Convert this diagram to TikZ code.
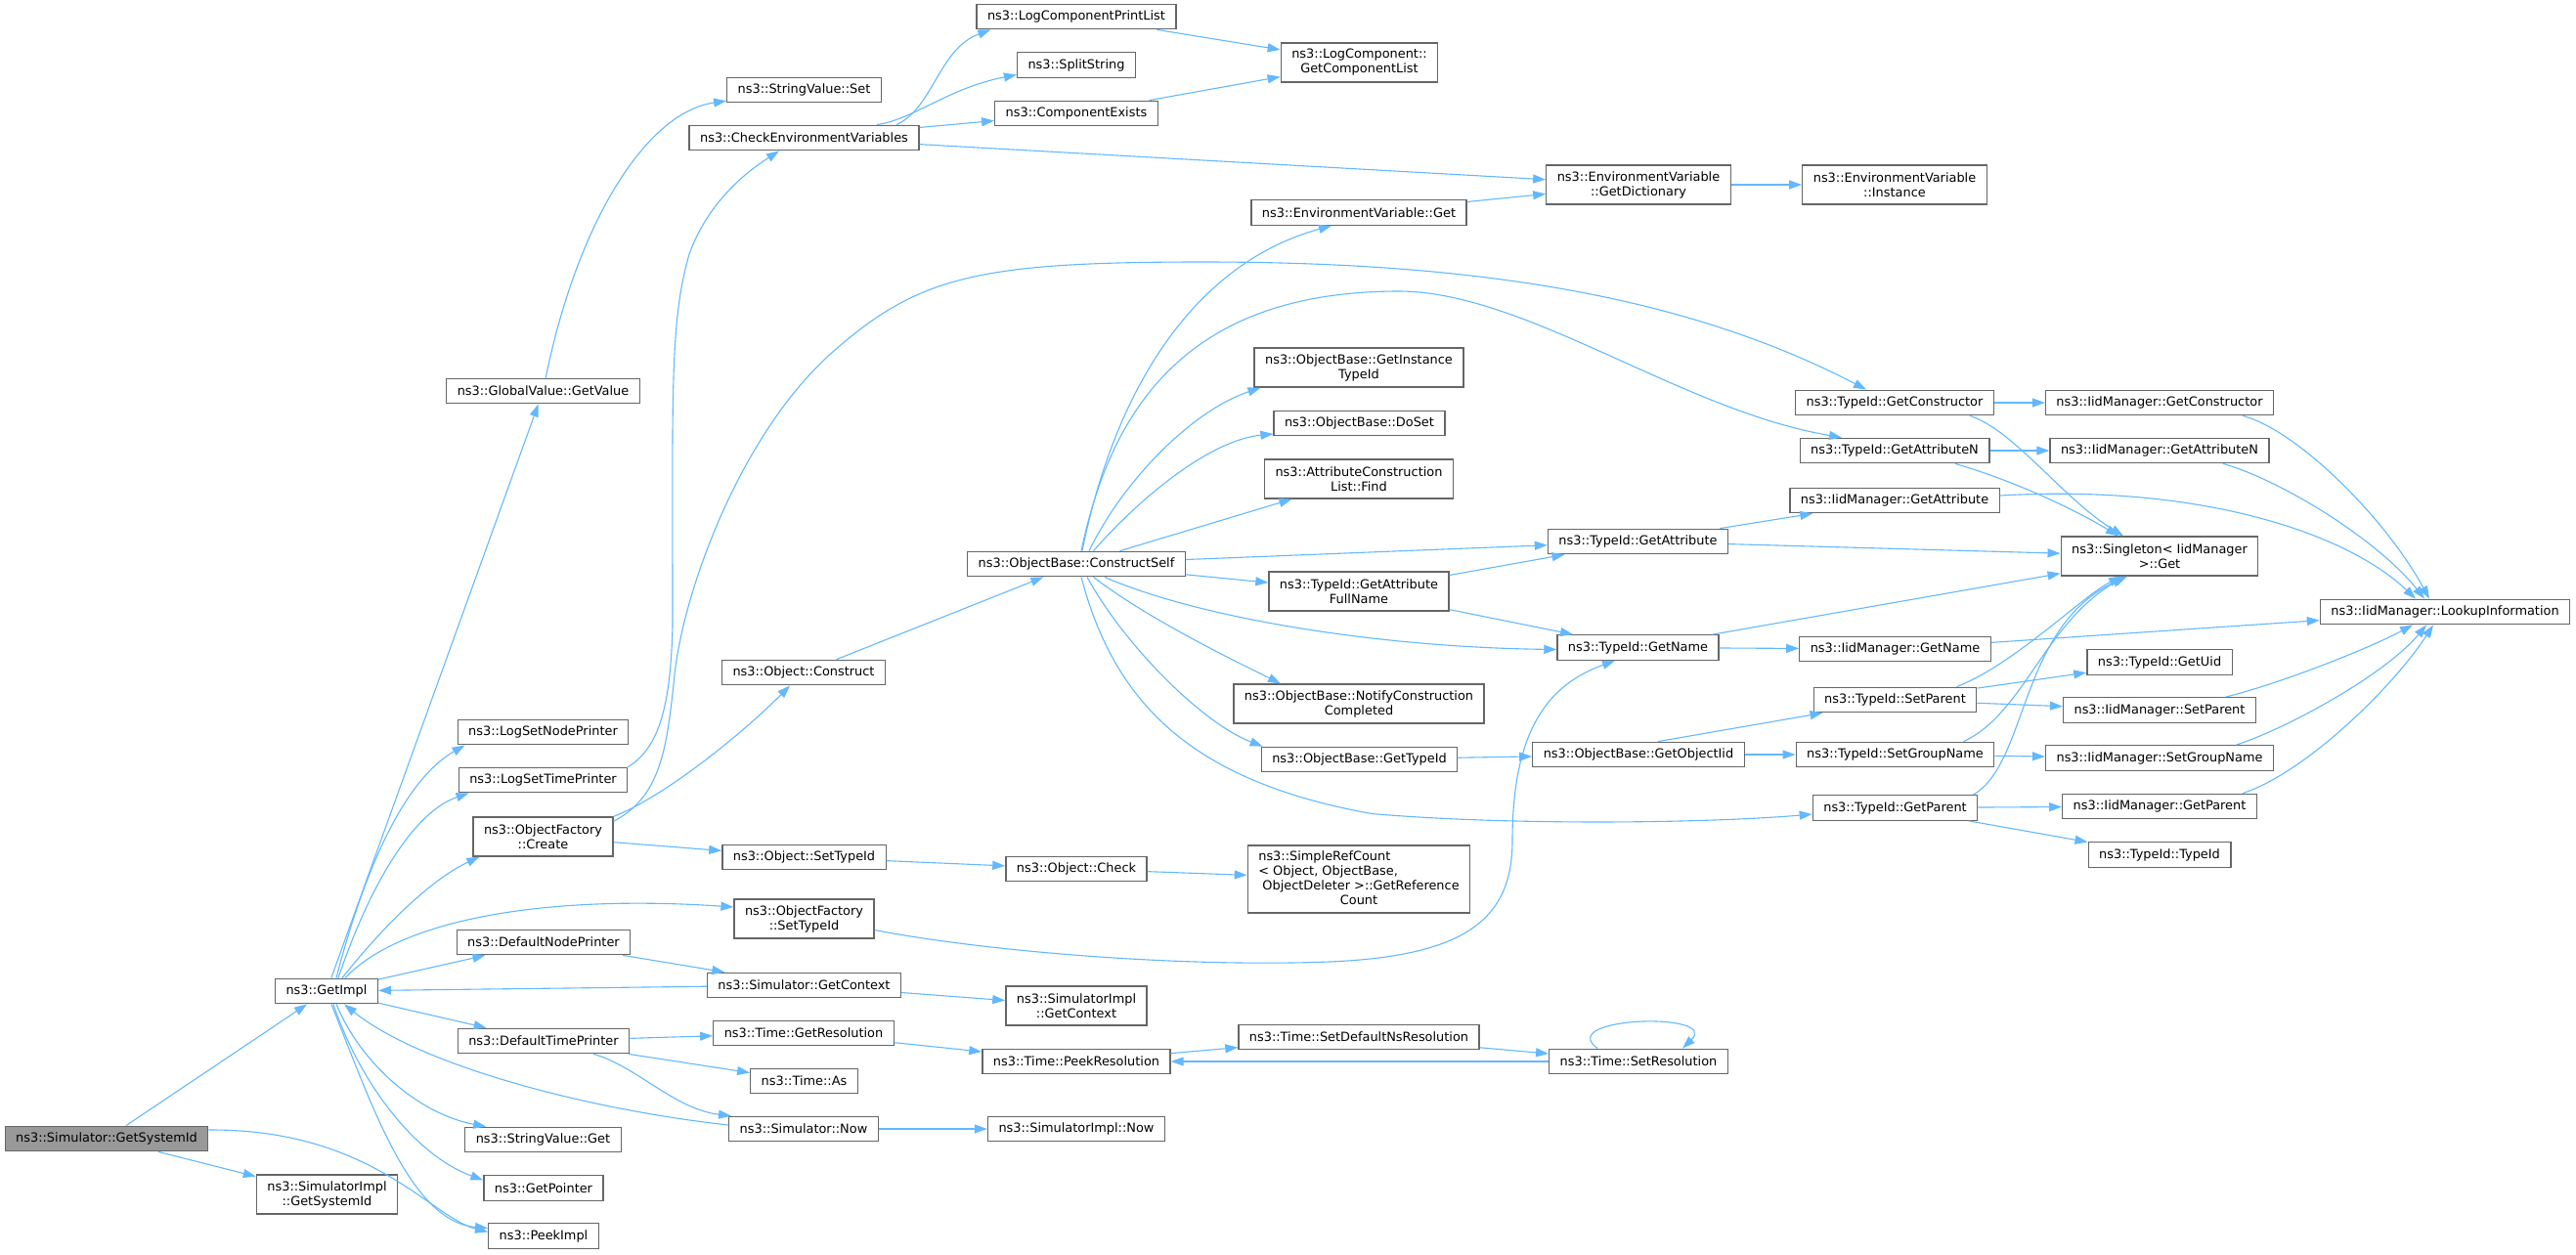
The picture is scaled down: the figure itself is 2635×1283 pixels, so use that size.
\documentclass[tikz,border=0pt]{standalone}
\usepackage{fontspec}
\setmainfont{DejaVu Sans}
\usetikzlibrary{arrows.meta}
\definecolor{edgeblue}{HTML}{63B8FF}
\definecolor{boxgray}{HTML}{666666}
\definecolor{rootgray}{HTML}{999999}
\newcommand{\fnsize}{\fontsize{12.9}{15}\selectfont}
\tikzset{> = {Triangle[length=13pt,width=9pt]}, every picture/.style={line width=1.1pt}}

\begin{document}
\begin{tikzpicture}[x=1pt,y=-1pt]
\useasboundingbox (0,0) rectangle (2635,1283);
\begin{scope}[every node/.style={draw=boxgray,fill=white,line width=1.3pt,font=\fnsize,align=center,inner xsep=11pt,inner ysep=0pt,minimum height=25.5pt},
  two/.style={minimum height=40pt}, four/.style={minimum height=69pt}]
\node[fill=rootgray] (sysid) at (109,1165) {ns3::Simulator::GetSystemId};
\node[two] (implsysid) at (334.5,1222) {ns3::SimulatorImpl\\::GetSystemId};
\node (getimpl) at (334,1014) {ns3::GetImpl};
\node (gvget) at (555.5,400) {ns3::GlobalValue::GetValue};
\node (lsnp) at (555.5,749) {ns3::LogSetNodePrinter};
\node (lstp) at (555.5,798) {ns3::LogSetTimePrinter};
\node[two] (ofcreate) at (555.5,856) {ns3::ObjectFactory\\::Create};
\node (dnp) at (556,964) {ns3::DefaultNodePrinter};
\node (dtp) at (556,1065) {ns3::DefaultTimePrinter};
\node (svget) at (555.5,1166) {ns3::StringValue::Get};
\node (getpointer) at (556,1215.5) {ns3::GetPointer};
\node (peekimpl) at (556,1264.5) {ns3::PeekImpl};
\node (svset) at (822.5,92) {ns3::StringValue::Set};
\node (checkenv) at (822.5,141) {ns3::CheckEnvironmentVariables};
\node (oconstruct) at (822,688) {ns3::Object::Construct};
\node (osettype) at (822.5,877) {ns3::Object::SetTypeId};
\node[two] (ofsettype) at (822.5,940) {ns3::ObjectFactory\\::SetTypeId};
\node (simctx) at (822.5,1008) {ns3::Simulator::GetContext};
\node (getres) at (822,1057) {ns3::Time::GetResolution};
\node (timeas) at (822.5,1106) {ns3::Time::As};
\node (simnow) at (822,1155) {ns3::Simulator::Now};
\node (lcpl) at (1101,17) {ns3::LogComponentPrintList};
\node (split) at (1101,66.5) {ns3::SplitString};
\node (compex) at (1101,116) {ns3::ComponentExists};
\node (cself) at (1101,577) {ns3::ObjectBase::ConstructSelf};
\node (ocheck) at (1101,889) {ns3::Object::Check};
\node[two] (implctx) at (1101,1029) {ns3::SimulatorImpl\\::GetContext};
\node (peekres) at (1101,1086) {ns3::Time::PeekResolution};
\node (implnow) at (1101,1155) {ns3::SimulatorImpl::Now};
\node[two] (getcl) at (1390.5,64) {ns3::LogComponent::\\GetComponentList};
\node (envget) at (1390,217.5) {ns3::EnvironmentVariable::Get};
\node[two] (instid) at (1390,376) {ns3::ObjectBase::GetInstance\\TypeId};
\node (doset) at (1390.5,433) {ns3::ObjectBase::DoSet};
\node[two] (acfind) at (1390,490) {ns3::AttributeConstruction\\List::Find};
\node[two] (attrfull) at (1390,605) {ns3::TypeId::GetAttribute\\FullName};
\node[two] (notify) at (1390,720) {ns3::ObjectBase::NotifyConstruction\\Completed};
\node (obtypeid) at (1390.5,777) {ns3::ObjectBase::GetTypeId};
\node[four] (refcount) at (1390,899.5) {\begin{tabular}{@{}l@{}}ns3::SimpleRefCount\\< Object, ObjectBase,\\\ ObjectDeleter >::GetReference\\\multicolumn{1}{@{}c@{}}{Count}\end{tabular}};
\node (setdef) at (1390,1061) {ns3::Time::SetDefaultNsResolution};
\node[two] (envdict) at (1676,189) {ns3::EnvironmentVariable\\::GetDictionary};
\node (tgetattr) at (1675.5,554) {ns3::TypeId::GetAttribute};
\node (tgetname) at (1675.5,662.5) {ns3::TypeId::GetName};
\node (objiid) at (1676,772) {ns3::ObjectBase::GetObjectIid};
\node (setres) at (1676,1086) {ns3::Time::SetResolution};
\node[two] (envinst) at (1938,189) {ns3::EnvironmentVariable\\::Instance};
\node (tgetctor) at (1938,412) {ns3::TypeId::GetConstructor};
\node (tgetattrn) at (1938,461) {ns3::TypeId::GetAttributeN};
\node (igetattr) at (1938,512) {ns3::IidManager::GetAttribute};
\node (igetname) at (1938.5,664) {ns3::IidManager::GetName};
\node (tsetparent) at (1938.5,716) {ns3::TypeId::SetParent};
\node (tsetgroup) at (1938.5,772) {ns3::TypeId::SetGroupName};
\node (tgetparent) at (1938.5,826.5) {ns3::TypeId::GetParent};
\node (igetctor) at (2209,412) {ns3::IidManager::GetConstructor};
\node (igetattrn) at (2209,461) {ns3::IidManager::GetAttributeN};
\node[two] (singleton) at (2209,569) {ns3::Singleton< IidManager\\>::Get};
\node (tgetuid) at (2209,677.5) {ns3::TypeId::GetUid};
\node (isetparent) at (2209,726.5) {ns3::IidManager::SetParent};
\node (isetgroup) at (2209,775.5) {ns3::IidManager::SetGroupName};
\node (igetparent) at (2209,825) {ns3::IidManager::GetParent};
\node (ttypeid) at (2209,874.5) {ns3::TypeId::TypeId};
\node (lookup) at (2501,626) {ns3::IidManager::LookupInformation};
\end{scope}

\begin{scope}[edgeblue, every edge/.style={draw}]
% straight calls
\path [->] (sysid) edge (getimpl) (sysid) edge (implsysid)
    (getimpl) edge (gvget) (getimpl) edge (dnp) (getimpl) edge (dtp)
    (simctx) edge (getimpl) (ofcreate) edge (osettype)
    (checkenv) edge (compex) (checkenv) edge (envdict)
    (lcpl) edge (getcl) (compex) edge (getcl)
    (envget) edge (envdict) (envdict) edge (envinst)
    (oconstruct) edge (cself) (cself) edge (acfind)
    (cself) edge (tgetattr) (cself) edge (attrfull)
    (attrfull) edge (tgetattr) (attrfull) edge (tgetname)
    (tgetattr) edge (igetattr) (tgetattr) edge (singleton)
    (tgetname) edge (singleton) (tgetname) edge (igetname)
    (igetname) edge (lookup) (tgetctor) edge (igetctor)
    (tgetattrn) edge (igetattrn) (tsetparent) edge (tgetuid)
    (tsetparent) edge (isetparent) (tsetgroup) edge (isetgroup)
    (tgetparent) edge (igetparent) (tgetparent) edge (ttypeid)
    (obtypeid) edge (objiid) (objiid) edge (tsetgroup)
    (osettype) edge (ocheck) (ocheck) edge (refcount)
    (dnp) edge (simctx) (simctx) edge (implctx)
    (dtp) edge (getres) (dtp) edge (timeas)
    (getres) edge (peekres) (peekres) edge (setdef)
    (setdef) edge (setres) (setres) edge (peekres)
    (simnow) edge (implnow);
\draw [->] ([xshift=20pt]objiid.north) -- ([xshift=-74pt]tsetparent.south);

% curved calls
\draw [->] ([yshift=9pt]sysid.east) .. controls (380,1155) and (440,1245) .. ([yshift=4pt]peekimpl.west);
\draw [->] (gvget) .. controls (590,230) and (660,115) .. (svset);
\draw [->] ([xshift=10pt]getimpl.north) .. controls (370,900) and (410,800) .. ([xshift=8pt]lsnp.south west);
\draw [->] ([xshift=12pt]getimpl.north) .. controls (380,900) and (425,830) .. ([xshift=11pt]lstp.south west);
\draw [->] ([xshift=16pt]getimpl.north) .. controls (390,950) and (440,900) .. ([xshift=7pt]ofcreate.south west);
\draw [->] ([xshift=19pt]getimpl.north) .. controls (410,940) and (560,915) .. ([yshift=12pt]ofsettype.west);
\draw [->] ([xshift=10pt]getimpl.south) .. controls (370,1090) and (430,1140) .. ([xshift=22pt]svget.north west);
\draw [->] ([xshift=7pt]getimpl.south) .. controls (365,1100) and (420,1180) .. ([yshift=8pt]getpointer.west);
\draw [->] ([xshift=5pt]getimpl.south) .. controls (380,1130) and (420,1250) .. ([yshift=8pt]peekimpl.west);
\draw [->] ([yshift=4pt]simnow.west) .. controls (600,1135) and (430,1090) .. ([xshift=18pt]getimpl.south);
\draw [->] ([xshift=51pt]dtp.south) .. controls (650,1090) and (690,1135) .. ([xshift=3pt]simnow.north west);
\draw [->] (lstp.north east) .. controls (675,765) and (686,720) .. (688,640)
    .. controls (688,400) and (685,330) .. (705,260)
    .. controls (725,205) and (765,175) .. ([xshift=-25.5pt]checkenv.south);
\draw [->] ([yshift=-5pt]ofcreate.north east) .. controls (675,815) and (682,770) .. (690,690)
    .. controls (700,600) and (760,440) .. (853,359)
    .. controls (940,283) and (1000,268) .. (1230,268)
    .. controls (1500,268) and (1720,300) .. ([xshift=-29pt]tgetctor.north);
\draw [->] (ofcreate.north east) .. controls (680,815) and (760,750) .. ([xshift=-14pt]oconstruct.south);
\draw [->] ([xshift=94.5pt]checkenv.north) .. controls (955,110) and (960,50) .. ([xshift=15pt]lcpl.south west);
\draw [->] ([xshift=74.5pt]checkenv.north) .. controls (935,122) and (970,90) .. ([yshift=-10pt]split.west);
\draw [->] ([xshift=6pt]cself.north) .. controls (1140,400) and (1220,270) .. ([xshift=-28pt]envget.south);
\draw [->] ([xshift=5pt]cself.north) .. controls (1140,400) and (1230,298) .. (1431,298)
    .. controls (1560,298) and (1720,420) .. ([xshift=-54pt]tgetattrn.north);
\draw [->] ([xshift=13pt]cself.north) .. controls (1150,490) and (1220,420) .. ([xshift=7pt]instid.south west);
\draw [->] ([xshift=17.5pt]cself.north) .. controls (1170,505) and (1240,450) .. ([yshift=-11pt]doset.west);
\draw [->] ([xshift=29pt]cself.south) .. controls (1220,630) and (1400,662) .. ([yshift=-2pt]tgetname.west);
\draw [->] ([xshift=17.5pt]cself.south) .. controls (1170,630) and (1250,670) .. ([xshift=-80pt]notify.north);
\draw [->] ([xshift=11pt]cself.south) .. controls (1150,660) and (1230,740) .. ([xshift=2pt]obtypeid.north west);
\draw [->] ([xshift=5pt]cself.south) .. controls (1140,720) and (1220,800) .. (1404,832.6)
    .. controls (1550,845) and (1750,842) .. ([yshift=-6.5pt]tgetparent.west);
\draw [->] ([yshift=-11.5pt]ofsettype.east) .. controls (1000,972) and (1200,990) .. (1360,984)
    .. controls (1500,978) and (1547,940) .. (1547,860)
    .. controls (1547,745) and (1585,700) .. ([xshift=-23.5pt]tgetname.south);
\draw [->] ([xshift=-42pt]setres.north) .. controls (1590,1040) and (1760,1035) .. ([xshift=45pt]setres.north);
\draw [->] ([xshift=77pt]tgetctor.south) .. controls (2060,440) and (2110,510) .. ([xshift=-37pt]singleton.north);
\draw [->] ([xshift=62pt]tgetattrn.south) .. controls (2060,492) and (2120,520) .. ([xshift=-42pt]singleton.north);
\draw [->] ([yshift=5pt]igetattr.east) .. controls (2250,495) and (2400,545) .. ([xshift=-30pt]lookup.north);
\draw [->] ([xshift=85pt]igetctor.south) .. controls (2350,440) and (2440,530) .. ([xshift=-16pt]lookup.north);
\draw [->] ([xshift=65pt]igetattrn.south) .. controls (2330,490) and (2430,550) .. ([xshift=-21pt]lookup.north);
\draw [->] ([xshift=63pt]tsetparent.north) .. controls (2060,680) and (2130,610) .. ([xshift=-39pt]singleton.south);
\draw [->] ([xshift=70pt]tsetgroup.north) .. controls (2070,730) and (2090,640) .. ([xshift=-36pt]singleton.south);
\draw [->] ([xshift=80pt]tgetparent.north) .. controls (2075,780) and (2065,640) .. ([xshift=-33pt]singleton.south);
\draw [->] ([xshift=67.5pt]isetparent.north) .. controls (2330,700) and (2420,665) .. ([xshift=-33pt]lookup.south);
\draw [->] ([xshift=78.5pt]isetgroup.north) .. controls (2340,745) and (2440,690) .. ([xshift=-19pt]lookup.south);
\draw [->] ([xshift=85pt]igetparent.north) .. controls (2360,790) and (2450,700) .. ([xshift=-12pt]lookup.south);
\end{scope}
\end{tikzpicture}
\end{document}
